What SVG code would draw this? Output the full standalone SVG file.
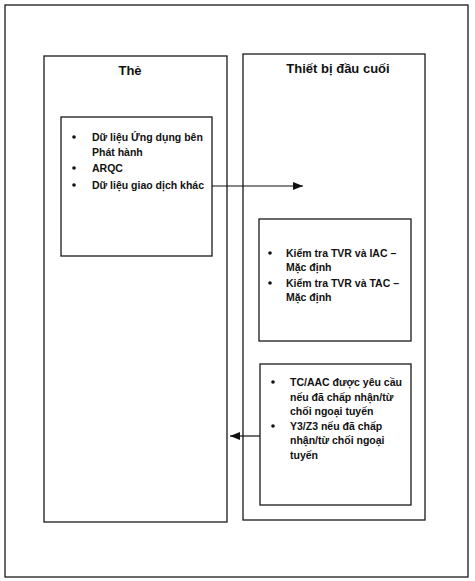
<svg xmlns="http://www.w3.org/2000/svg" width="475" height="581" viewBox="0 0 475 581">
<defs>
<style>
.box{fill:none;stroke:#1a1a1a;stroke-width:1.3}
.t{font-family:"Liberation Sans",Arial,sans-serif;font-weight:bold;font-size:10.5px;fill:#111}
.title{font-family:"Liberation Sans",Arial,sans-serif;font-weight:bold;font-size:13px;fill:#111;text-anchor:middle}
.ln{stroke:#111;stroke-width:1.2;fill:none}
.b{fill:#111}
</style>
<marker id="ah" markerWidth="10" markerHeight="8" refX="10" refY="4" orient="auto" markerUnits="userSpaceOnUse">
<path d="M0,0 L10,4 L0,8 Z" fill="#111"/>
</marker>
</defs>
<rect width="475" height="581" fill="#fff"/>
<rect id="frame" class="box" x="5" y="5" width="463" height="572"/>
<g id="the">
<rect class="box" x="44" y="56" width="183" height="466"/>
<text class="title" x="130" y="75">Thẻ</text>
</g>
<g id="thietbi">
<rect class="box" x="243" y="54" width="182" height="466"/>
<text class="title" x="338" y="73">Thiết bị đầu cuối</text>
</g>
<g id="box1">
<rect class="box" x="61" y="117" width="151" height="139"/>
<circle class="b" cx="74" cy="137" r="1.8"/>
<text class="t" x="92" y="141">Dữ liệu Ứng dụng bên</text>
<text class="t" x="92" y="156">Phát hành</text>
<circle class="b" cx="74" cy="168" r="1.8"/>
<text class="t" x="92" y="172">ARQC</text>
<circle class="b" cx="74" cy="185" r="1.8"/>
<text class="t" x="92" y="189">Dữ liệu giao dịch khác</text>
</g>
<g id="box2">
<rect class="box" x="259" y="219" width="152" height="122"/>
<circle class="b" cx="270" cy="253" r="1.8"/>
<text class="t" x="286" y="257">Kiểm tra TVR và IAC –</text>
<text class="t" x="286" y="271">Mặc định</text>
<circle class="b" cx="270" cy="283" r="1.8"/>
<text class="t" x="286" y="287">Kiểm tra TVR và TAC –</text>
<text class="t" x="286" y="301">Mặc định</text>
</g>
<g id="box3">
<rect class="box" x="260" y="364" width="151" height="141"/>
<circle class="b" cx="273" cy="382" r="1.8"/>
<text class="t" x="290" y="386">TC/AAC được yêu cầu</text>
<text class="t" x="290" y="401">nếu đã chấp nhận/từ</text>
<text class="t" x="290" y="415">chối ngoại tuyến</text>
<circle class="b" cx="273" cy="426" r="1.8"/>
<text class="t" x="290" y="430">Y3/Z3 nếu đã chấp</text>
<text class="t" x="290" y="444">nhận/từ chối ngoại</text>
<text class="t" x="290" y="459">tuyến</text>
</g>
<g id="connectors">
<line class="ln" x1="212" y1="186" x2="303" y2="186" marker-end="url(#ah)"/>
<line class="ln" x1="260" y1="436" x2="230" y2="436" marker-end="url(#ah)"/>
</g>
</svg>
